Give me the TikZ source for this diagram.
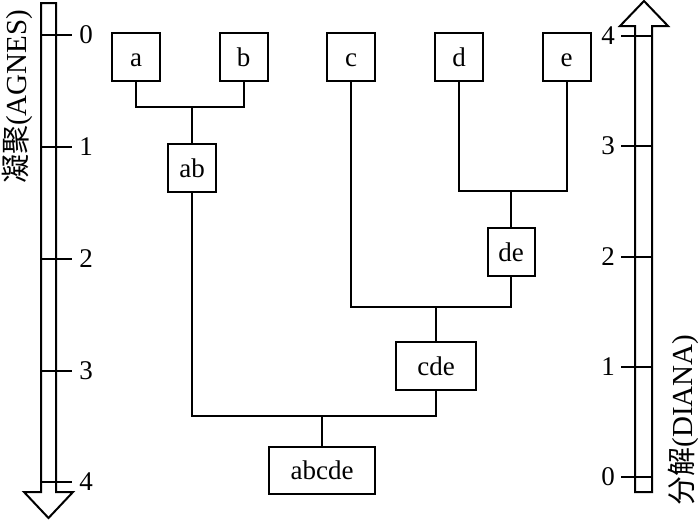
\documentclass[tikz,border=0pt]{standalone}
\usepackage{fontspec}
\setmainfont{Liberation Serif}
\newfontfamily\cjk{Noto Sans CJK SC}
\begin{document}
\begin{tikzpicture}[x=1pt,y=-1pt,
  line width=2pt,
  box/.style={draw,line width=2pt,inner sep=0pt,minimum height=48pt,
    font=\fontsize{27}{30}\selectfont,text height=18pt,text depth=0pt},
  sq/.style={box,minimum width=48pt},
  tick/.style={line width=2pt},
  ticklab/.style={font=\fontsize{27}{30}\selectfont,inner sep=0pt},
  axlab/.style={font=\fontsize{29}{32}\selectfont,inner sep=0pt,rotate=90},
  conn/.style={line width=2pt,line join=miter}]
\useasboundingbox (0,0) rectangle (700,520);
% left axis (down arrow)
\draw[line width=2pt,line join=miter] (41,3) -- (56,3) -- (56,492) -- (73,492) -- (48.5,518) -- (24,492) -- (41,492) -- cycle;
\foreach \v/\y in {0/35,1/147,2/259,3/371,4/482}{
  \draw[tick] (41,\y) -- (72,\y);
  \node[ticklab] (l\v) at (86,\y) {\v};
}
\node[axlab] (agnes) at (17,97) {{\cjk 凝聚}(AGNES)};
% right axis (up arrow)
\draw[line width=2pt,line join=miter] (635,492) -- (652,492) -- (652,26) -- (668,26) -- (644,1) -- (620,26) -- (635,26) -- cycle;
\foreach \v/\y in {4/36,3/146,2/257,1/367,0/477}{
  \draw[tick] (621,\y) -- (652,\y);
  \node[ticklab] (r\v) at (608,\y) {\v};
}
\node[axlab] (diana) at (683,420) {{\cjk 分解}(DIANA)};
% nodes
\node[sq] (a) at (136,57) {a};
\node[sq] (b) at (243.5,57) {b};
\node[sq] (c) at (351,57) {c};
\node[sq] (d) at (459,57) {d};
\node[sq] (e) at (566.5,57) {e};
\node[sq] (ab) at (192,168) {ab};
\node[box,minimum width=47pt] (de) at (511,252) {de};
\node[box,minimum width=80pt] (cde) at (436,366) {cde};
\node[box,minimum width=106pt,minimum height=47pt] (abcde) at (322,470.5) {abcde};
% junctions
\coordinate (jab) at (192,107);
\coordinate (jde) at (511,191);
\coordinate (jcde) at (436,307);
\coordinate (jall) at (322,416);
% connectors
\draw[conn] (a.south) |- (jab) -| (b.south);
\draw[conn] (jab) -- (ab.north);
\draw[conn] (d.south) |- (jde) -| (e.south);
\draw[conn] (jde) -- (de.north);
\draw[conn] (c.south) |- (jcde) -| (de.south);
\draw[conn] (jcde) -- (cde.north);
\draw[conn] (ab.south) |- (jall) -| (cde.south);
\draw[conn] (jall) -- (abcde.north);
\end{tikzpicture}
\end{document}
